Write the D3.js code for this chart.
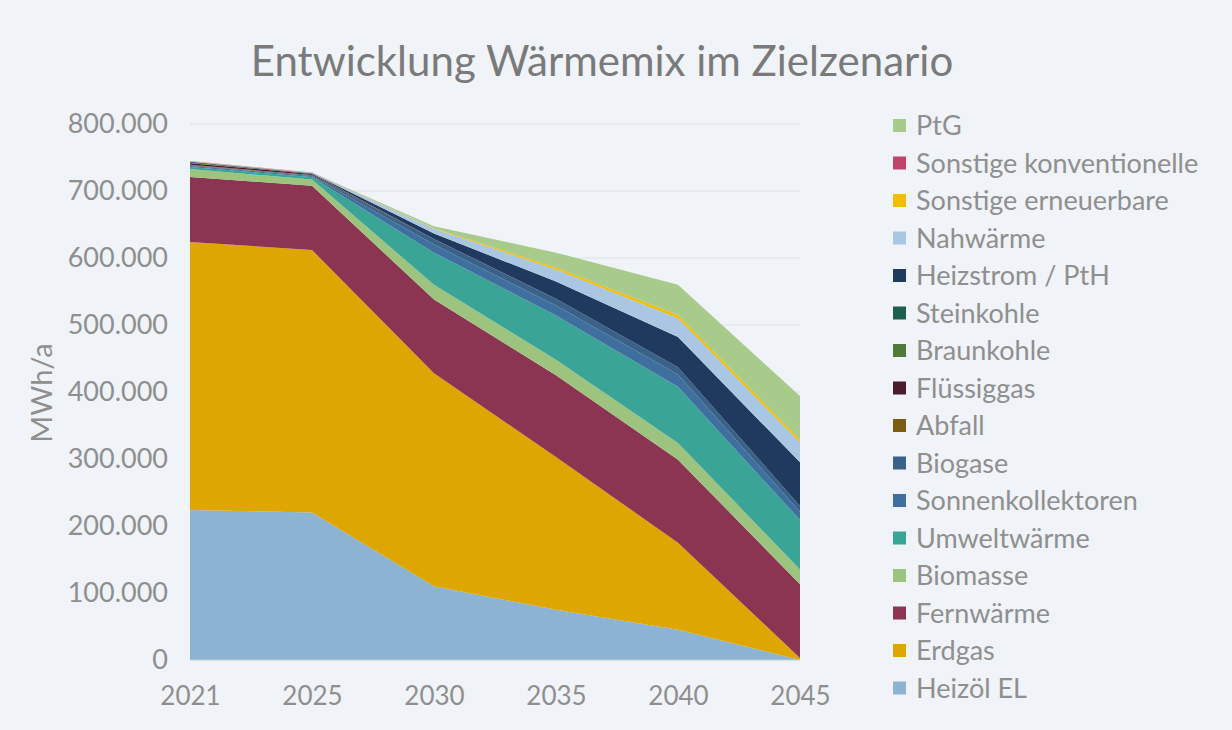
<!DOCTYPE html>
<html>
<head>
<meta charset="utf-8">
<script src="https://cdn.jsdelivr.net/npm/d3@7"></script>
<style>
  html, body { margin: 0; padding: 0; background: #f0f3f7; }
  svg { display: block; font-family: Lato, "Open Sans", sans-serif; }
</style>
</head>
<body>
<svg id="chart" width="1232" height="730"></svg>
<script>
// values in MWh/a
const years = ["2021", "2025", "2030", "2035", "2040", "2045"];

const heizoel      = [224000, 220000, 110000,  75000,  45000,      0];
const erdgas       = [400000, 392000, 318000, 228000, 130000,   3000];
const fernwaerme   = [ 97000,  96000, 110000, 122000, 124000, 110000];
const biomasse     = [ 12000,   9000,  22000,  23000,  25000,  22000];
const umweltwaerme = [  3000,   4000,  48000,  66000,  84000,  74000];
const sonnenkoll   = [  1500,   1500,  12000,  15000,  18000,  12000];
const biogase      = [  1000,   1000,   8000,  10000,  11000,   9000];
const abfall       = [   500,    500,      0,      0,      0,      0];
const fluessiggas  = [  2500,   1500,    500,      0,      0,      0];
const braunkohle   = [   500,    300,      0,      0,      0,      0];
const steinkohle   = [   500,    300,      0,      0,      0,      0];
const heizstrom    = [  1000,    500,   8000,  26000,  45000,  65000];
const nahwaerme    = [   500,    500,   7000,  18000,  28000,  30000];
const sonstErn     = [   500,    300,   1000,   3000,   5000,   4000];
const sonstKonv    = [   300,    200,      0,      0,      0,      0];
const ptg          = [     0,      0,   3000,  22000,  45000,  65000];

const yTicks = [0, 100000, 200000, 300000, 400000, 500000, 600000, 700000, 800000];

// bottom to top
const series = [
  { name: "Heizöl EL",               values: heizoel,      color: "#8cb4d2" },
  { name: "Erdgas",                  values: erdgas,       color: "#dea600" },
  { name: "Fernwärme",               values: fernwaerme,   color: "#8c3552" },
  { name: "Biomasse",                values: biomasse,     color: "#9cc47e" },
  { name: "Umweltwärme",             values: umweltwaerme, color: "#3aa597" },
  { name: "Sonnenkollektoren",       values: sonnenkoll,   color: "#3e6f9e" },
  { name: "Biogase",                 values: biogase,      color: "#3a6288" },
  { name: "Abfall",                  values: abfall,       color: "#7a5c12" },
  { name: "Flüssiggas",              values: fluessiggas,  color: "#4a1c2c" },
  { name: "Braunkohle",              values: braunkohle,   color: "#4f7a3a" },
  { name: "Steinkohle",              values: steinkohle,   color: "#1b5f50" },
  { name: "Heizstrom / PtH",         values: heizstrom,    color: "#1f3a5e" },
  { name: "Nahwärme",                values: nahwaerme,    color: "#a9c7e2" },
  { name: "Sonstige erneuerbare",    values: sonstErn,     color: "#f4be00" },
  { name: "Sonstige konventionelle", values: sonstKonv,    color: "#c0456c" },
  { name: "PtG",                     values: ptg,          color: "#a8cb8c" }
];

const svg = d3.select("#chart");
const W = 1232, H = 730;
const plot = { left: 190, right: 800, top: 124, bottom: 660 };
const textCol = "#8f8f8f";

svg.append("rect").attr("width", W).attr("height", H).attr("fill", "#f0f3f7");

const de = d3.formatLocale({ decimal: ",", thousands: ".", grouping: [3], currency: ["", " €"] });
const fmt = de.format(",.0f");

const x = d3.scalePoint().domain(years).range([plot.left, plot.right]);
const y = d3.scaleLinear().domain([0, 800000]).range([plot.bottom, plot.top]);

// gridlines
svg.append("g")
  .selectAll("line")
  .data(yTicks.filter(d => d > 0))
  .join("line")
  .attr("x1", plot.left).attr("x2", plot.right)
  .attr("y1", d => y(d)).attr("y2", d => y(d))
  .attr("stroke", "#dde2e8").attr("stroke-width", 1.2);

// stack
const rows = years.map((yr, i) => {
  const r = { year: yr };
  series.forEach(s => r[s.name] = s.values[i]);
  return r;
});
const stacked = d3.stack().keys(series.map(s => s.name))(rows);

const area = d3.area()
  .x(d => x(d.data.year))
  .y0(d => y(d[0]))
  .y1(d => y(d[1]));

svg.append("g")
  .selectAll("path")
  .data(stacked)
  .join("path")
  .attr("fill", (d, i) => series[i].color)
  .attr("d", area);

// baseline
svg.append("line")
  .attr("x1", plot.left).attr("x2", plot.right)
  .attr("y1", plot.bottom + 0.5).attr("y2", plot.bottom + 0.5)
  .attr("stroke", "#dfe3e8").attr("stroke-width", 1.5);

// y axis labels
const yAxis = svg.append("g")
  .attr("transform", `translate(${plot.left - 22},0)`)
  .call(d3.axisLeft(y).tickValues(yTicks).tickSize(0).tickPadding(0).tickFormat(d => fmt(d)));
yAxis.select(".domain").remove();
yAxis.selectAll("text")
  .attr("fill", textCol)
  .attr("font-size", 27)
  .attr("font-family", "Lato, sans-serif");

// x axis labels
const xAxis = svg.append("g")
  .attr("transform", `translate(0,${plot.bottom + 27})`)
  .call(d3.axisBottom(x).tickSize(0).tickPadding(0));
xAxis.select(".domain").remove();
xAxis.selectAll("text")
  .attr("fill", textCol)
  .attr("font-size", 26)
  .attr("font-family", "Lato, sans-serif");

// y axis title
svg.append("text")
  .attr("transform", "translate(52,393) rotate(-90)")
  .attr("text-anchor", "middle")
  .attr("fill", textCol)
  .attr("font-size", 29)
  .text("MWh/a");

// title
svg.append("text")
  .attr("x", 602).attr("y", 76)
  .attr("text-anchor", "middle")
  .attr("fill", "#7a7a7a")
  .attr("font-size", 42)
  .text("Entwicklung Wärmemix im Zielzenario");

// legend, top to bottom = reverse stack order
const legendItems = series.slice().reverse();
const leg = svg.append("g").attr("transform", "translate(893,125)");
const item = leg.selectAll("g")
  .data(legendItems)
  .join("g")
  .attr("transform", (d, i) => `translate(0,${i * 37.5})`);
item.append("rect")
  .attr("x", 0).attr("y", -6)
  .attr("width", 13).attr("height", 13)
  .attr("fill", d => d.color);
item.append("text")
  .attr("x", 23).attr("y", 1)
  .attr("dy", "0.35em")
  .attr("fill", textCol)
  .attr("font-size", 27)
  .text(d => d.name);
</script>
</body>
</html>
